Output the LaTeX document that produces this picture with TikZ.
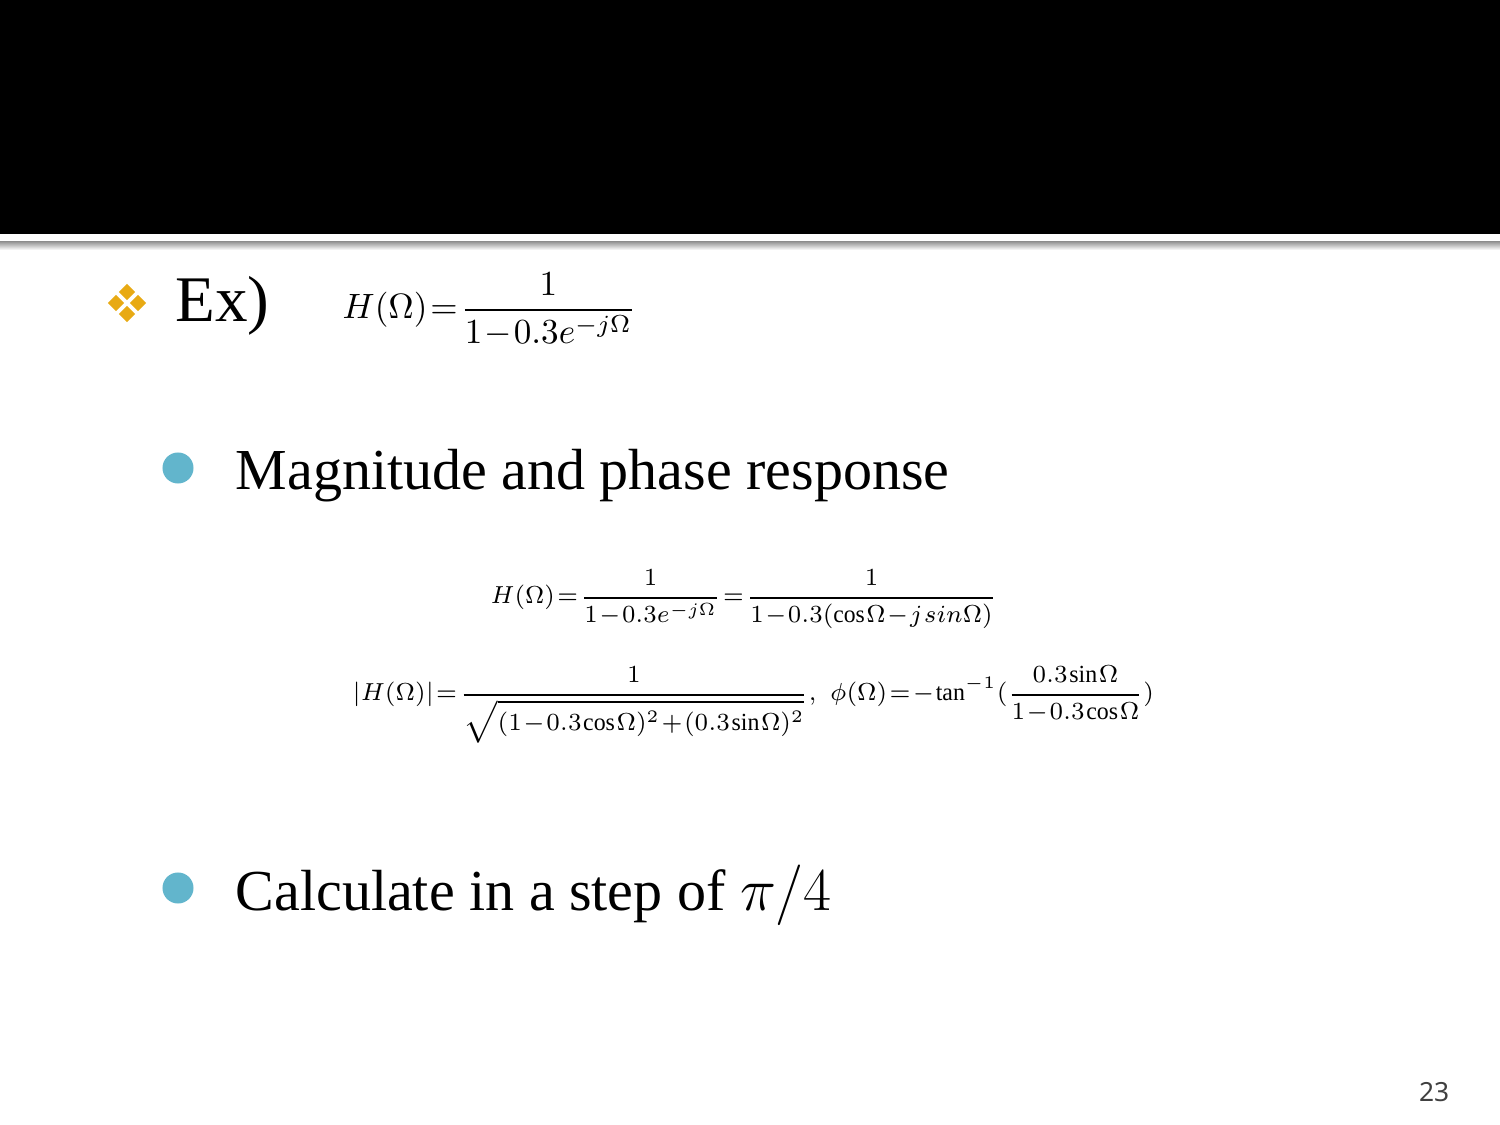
\documentclass[tikz,border=0pt]{standalone}
\usepackage{fontspec}
\setmainfont{Liberation Serif}
\newfontfamily\pagefont{Noto Sans}
\usepackage{tikz}
\definecolor{slidegold}{HTML}{E8AA14}
\definecolor{slidecyan}{HTML}{62B5CC}
\definecolor{pagegray}{HTML}{404040}
\newcommand{\tightmath}{\thickmuskip=1.5mu\medmuskip=1mu\thinmuskip=1mu}
\tikzset{
  dotbullet/.style={circle, fill=slidecyan, inner sep=0pt, minimum size=0.31cm},
  gem/.style={diamond, fill=slidegold, inner sep=0pt, minimum size=0.17cm},
  bodytext/.style={anchor=base west, inner sep=0pt, font=\fontsize{16.5pt}{19pt}\selectfont},
  eqn/.style={anchor=base west, inner sep=0pt}
}
\usetikzlibrary{shapes.geometric}

\begin{document}
\begin{tikzpicture}[x=0.01cm, y=-0.01cm]%
\useasboundingbox (0,0) rectangle (1500,1125);%
% header band
\fill[black] (0,0) rectangle (1500,234);%
\shade[top color=gray!80, bottom color=white] (0,242) rectangle (1500,250);%
% Ex) line
\node[gem] (gemN) at (127,292) {};%
\node[gem] (gemW) at (116,303) {};%
\node[gem] (gemE) at (138,303) {};%
\node[gem] (gemS) at (127,314) {};%
\node[bodytext, font=\fontsize{18.5pt}{20pt}\selectfont] (ex) at (175,322) {Ex)};%
\node[eqn] (eqTop) at (342,319) {\fontsize{10pt}{12pt}\selectfont\tightmath $\displaystyle H(\Omega)=\frac{1}{1-0.3e^{-j\Omega}}$};%
% first bullet
\node[dotbullet] (bulA) at (178,468) {};%
\node[bodytext] (magText) at (235,490) {Magnitude and phase response};%
\node[eqn] (eqH) at (490,604) {\fontsize{7pt}{9pt}\selectfont\tightmath \scalebox{0.96}[1]{$\displaystyle H(\Omega)=\frac{1}{1-0.3e^{-j\Omega}}=\frac{1}{1-0.3(\cos\Omega-j\,sin\Omega)}$}};%
\node[eqn] (eqMag) at (352,701) {\fontsize{7pt}{9pt}\selectfont\tightmath \scalebox{0.97}[1]{$\displaystyle |H(\Omega)|=\frac{1}{\sqrt{(1-0.3\cos\Omega)^2+(0.3\sin\Omega)^2}},\ \ \phi(\Omega)=-\tan^{-1}(\frac{0.3\sin\Omega}{1-0.3\cos\Omega})$}};%
% second bullet
\node[dotbullet] (bulB) at (178,888) {};%
\node[bodytext] (calcText) at (235,910) {Calculate in a step of $\pi/4$};%
% page number
\node[anchor=base east, inner sep=0pt, text=pagegray] (pageNo) at (1450,1101) {\pagefont\fontsize{7.5pt}{9pt}\selectfont 23};%
\end{tikzpicture}
\end{document}
